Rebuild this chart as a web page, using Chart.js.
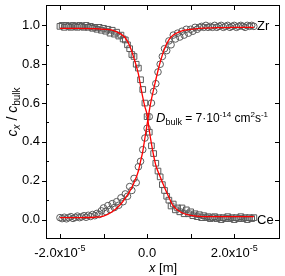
<!DOCTYPE html>
<html>
<head>
<meta charset="utf-8">
<script src="https://cdn.jsdelivr.net/npm/chart.js@4.4.0/dist/chart.umd.min.js"></script>
<style>
  html, body { margin: 0; padding: 0; background: #fff; }
</style>
</head>
<body>
<canvas id="chart" width="285" height="276"></canvas>
<script>
// positions along the line scan, in micrometres
const xMicron = [
	-20, -19.5, -19, -18.5, -18, -17.5, -17, -16.5, -16, -15.5,
	-15, -14.5, -14, -13.5, -13, -12.5, -12, -11.5, -11, -10.5,
	-10, -9.5, -9, -8.5, -8, -7.5, -7, -6.5, -6, -5.5,
	-5, -4.5, -4, -3.5, -3, -2.5, -2, -1.5, -1, -0.5,
	0, 0.5, 1, 1.5, 2, 2.5, 3, 3.5, 4, 4.5,
	5, 5.5, 6, 6.5, 7, 7.5, 8, 8.5, 9, 9.5,
	10, 10.5, 11, 11.5, 12, 12.5, 13, 13.5, 14, 14.5,
	15, 15.5, 16, 16.5, 17, 17.5, 18, 18.5, 19, 19.5,
	20, 20.5, 21, 21.5, 22, 22.5, 23, 23.5, 24, 24.5
]

// Zr (circles)
const zrValues = [
	0.010, 0.005, 0.012, 0.004, 0.010, 0.015, 0.006, 0.011, 0.018, 0.010,
	0.014, 0.020, 0.012, 0.022, 0.016, 0.026, 0.020, 0.032, 0.026, 0.045,
	0.060, 0.042, 0.072, 0.052, 0.082, 0.062, 0.092, 0.074, 0.112, 0.092,
	0.132, 0.120, 0.170, 0.150, 0.212, 0.190, 0.272, 0.300, 0.360, 0.420,
	0.470, 0.530, 0.600, 0.660, 0.700, 0.760, 0.800, 0.840, 0.880, 0.870,
	0.920, 0.900, 0.950, 0.930, 0.960, 0.940, 0.970, 0.950, 0.980, 0.960,
	0.980, 0.970, 0.990, 0.980, 0.990, 0.995, 0.990, 1.000, 0.990, 0.995,
	0.990, 1.000, 0.990, 0.995, 1.000, 0.990, 0.995, 1.000, 0.990, 0.995,
	1.000, 0.990, 0.995, 1.000, 0.995, 0.990, 1.000, 0.995, 1.000, 0.995
]

// Ce (squares)
const ceValues = [
	0.995, 1.000, 0.990, 1.000, 0.995, 0.990, 1.000, 0.995, 0.990, 1.000,
	0.995, 0.990, 1.000, 0.990, 0.995, 0.985, 0.990, 0.980, 0.990, 0.975,
	0.985, 0.970, 0.980, 0.960, 0.975, 0.955, 0.965, 0.945, 0.950, 0.930,
	0.925, 0.900, 0.880, 0.850, 0.840, 0.800, 0.780, 0.720, 0.670, 0.600,
	0.530, 0.450, 0.380, 0.340, 0.290, 0.250, 0.220, 0.180, 0.150, 0.120,
	0.100, 0.070, 0.080, 0.050, 0.060, 0.040, 0.060, 0.030, 0.050, 0.030,
	0.040, 0.020, 0.030, 0.015, 0.025, 0.010, 0.020, 0.010, 0.015, 0.005,
	0.010, 0.015, 0.005, 0.010, 0.000, 0.010, 0.005, 0.015, 0.005, 0.010,
	0.000, 0.010, 0.005, 0.015, 0.005, 0.010, 0.000, 0.010, 0.005, 0.010
]

// fitted diffusion profiles (red lines)
const fitX = [-20, -16, -12, -10, -8, -6, -5, -4, -3, -2, -1.5, -1, -0.5, 0, 0.5, 1, 1.5, 2, 3, 4, 5, 6, 8, 10, 12, 16, 20, 24.5]
const zrFit = [0.010, 0.010, 0.012, 0.018, 0.040, 0.080, 0.110, 0.145, 0.190, 0.250, 0.300, 0.350, 0.420, 0.490, 0.560, 0.620, 0.670, 0.720, 0.810, 0.880, 0.925, 0.950, 0.972, 0.980, 0.985, 0.988, 0.990, 0.990]
const ceFit = [0.985, 0.985, 0.983, 0.980, 0.975, 0.955, 0.935, 0.895, 0.830, 0.750, 0.690, 0.630, 0.580, 0.540, 0.460, 0.390, 0.330, 0.280, 0.220, 0.165, 0.115, 0.070, 0.035, 0.022, 0.017, 0.015, 0.015, 0.015]

// axes
const xTickValues = [-2e-5, -1e-5, 0, 1e-5, 2e-5]
const xLabelValues = [-2e-5, 0, 2e-5]
const xLabelText = ['-2.0x10', '0.0', '2.0x10']
const xLabelExp = ['-5', '', '-5']
const yMajorValues = [0, 0.2, 0.4, 0.6, 0.8, 1.0]
const yLabelText = ['0.0', '0.2', '0.4', '0.6', '0.8', '1.0']
const yMinorValues = [0.1, 0.3, 0.5, 0.7, 0.9]

const FONT = '"Liberation Sans", Arial, sans-serif'
const MARKER = '#5a5a5a'

function toPoints(xs, ys) {
	return xs.map((x, i) => ({ x: x * 1e-6, y: ys[i] }))
}

function drawRuns(ctx, runs, x, y, align) {
	let total = 0
	for (const r of runs) {
		ctx.font = r.font
		total += ctx.measureText(r.text).width
	}
	let cx = x
	if (align === 'center') cx = x - total / 2
	if (align === 'right') cx = x - total
	ctx.textAlign = 'left'
	for (const r of runs) {
		ctx.font = r.font
		ctx.fillText(r.text, cx, y + (r.dy || 0))
		cx += ctx.measureText(r.text).width
	}
}

const framePlugin = {
	id: 'frame',
	afterDraw(chart) {
		const ctx = chart.ctx
		const { left, right, top, bottom } = chart.chartArea
		const xs = chart.scales.x
		const ys = chart.scales.y

		ctx.save()
		ctx.strokeStyle = '#000'
		ctx.lineWidth = 1
		ctx.strokeRect(left + 0.5, top + 0.5, right - left - 1, bottom - top - 1)

		ctx.beginPath()
		// x ticks, inward on top and bottom
		for (const v of xTickValues) {
			const px = Math.round(xs.getPixelForValue(v)) + 0.5
			ctx.moveTo(px, bottom)
			ctx.lineTo(px, bottom - 5)
			ctx.moveTo(px, top)
			ctx.lineTo(px, top + 5)
		}
		// y major ticks: outward left, inward right
		for (const v of yMajorValues) {
			const py = Math.round(ys.getPixelForValue(v)) + 0.5
			ctx.moveTo(left, py)
			ctx.lineTo(left - 4, py)
			ctx.moveTo(right, py)
			ctx.lineTo(right - 5, py)
		}
		// y minor ticks inward on the left
		for (const v of yMinorValues) {
			const py = Math.round(ys.getPixelForValue(v)) + 0.5
			ctx.moveTo(left, py)
			ctx.lineTo(left + 3, py)
		}
		ctx.stroke()

		ctx.fillStyle = '#000'
		ctx.textBaseline = 'middle'
		ctx.textAlign = 'right'
		ctx.font = '13px ' + FONT
		yMajorValues.forEach((v, i) => {
			ctx.fillText(yLabelText[i], left - 6, ys.getPixelForValue(v))
		})

		ctx.textBaseline = 'alphabetic'
		xLabelValues.forEach((v, i) => {
			const runs = [{ text: xLabelText[i], font: '13px ' + FONT }]
			if (xLabelExp[i]) runs.push({ text: xLabelExp[i], font: '9px ' + FONT, dy: -6 })
			drawRuns(ctx, runs, xs.getPixelForValue(v), bottom + 18, 'center')
		})

		// axis titles
		drawRuns(ctx, [
			{ text: 'x', font: 'italic 13px ' + FONT },
			{ text: ' [m]', font: '13px ' + FONT }
		], (left + right) / 2, bottom + 33, 'center')

		ctx.save()
		ctx.translate(17, 112)
		ctx.rotate(-Math.PI / 2)
		drawRuns(ctx, [
			{ text: 'c', font: 'italic 14px ' + FONT },
			{ text: 'x', font: 'italic 10px ' + FONT, dy: 3 },
			{ text: ' / ', font: '14px ' + FONT },
			{ text: 'c', font: 'italic 14px ' + FONT },
			{ text: 'bulk', font: '10px ' + FONT, dy: 3 }
		], 0, 0, 'center')
		ctx.restore()

		// annotations
		drawRuns(ctx, [
			{ text: 'D', font: 'italic 13px ' + FONT },
			{ text: 'bulk', font: '9px ' + FONT, dy: 3 },
			{ text: ' = 7\u00b710', font: '12px ' + FONT },
			{ text: '-14', font: '8px ' + FONT, dy: -5 },
			{ text: ' cm', font: '12px ' + FONT },
			{ text: '2', font: '8px ' + FONT, dy: -5 },
			{ text: 's', font: '12px ' + FONT },
			{ text: '-1', font: '8px ' + FONT, dy: -5 }
		], 156, 122, 'left')

		ctx.textBaseline = 'middle'
		ctx.textAlign = 'left'
		ctx.font = '13px ' + FONT
		ctx.fillText('Zr', 257, ys.getPixelForValue(1.0) + 1)
		ctx.fillText('Ce', 257, ys.getPixelForValue(0.0) + 1)
		ctx.restore()
	}
}

new Chart(document.getElementById('chart'), {
	type: 'scatter',
	data: {
		datasets: [
			{
				label: 'Zr fit',
				data: toPoints(fitX, zrFit),
				showLine: true,
				borderColor: '#ff0000',
				borderWidth: 1.3,
				pointRadius: 0,
				cubicInterpolationMode: 'monotone',
				order: 0
			},
			{
				label: 'Ce fit',
				data: toPoints(fitX, ceFit),
				showLine: true,
				borderColor: '#ff0000',
				borderWidth: 1.3,
				pointRadius: 0,
				cubicInterpolationMode: 'monotone',
				order: 0
			},
			{
				label: 'Zr',
				data: toPoints(xMicron, zrValues),
				pointStyle: 'circle',
				pointRadius: 3.3,
				borderColor: MARKER,
				backgroundColor: 'rgba(0,0,0,0)',
				borderWidth: 1,
				order: 1
			},
			{
				label: 'Ce',
				data: toPoints(xMicron, ceValues),
				pointStyle: 'rect',
				pointRadius: 4,
				borderColor: MARKER,
				backgroundColor: 'rgba(0,0,0,0)',
				borderWidth: 1,
				order: 1
			}
		]
	},
	options: {
		responsive: false,
		animation: false,
		devicePixelRatio: 1,
		layout: { padding: { left: 46, right: 4, top: 1, bottom: 37 } },
		plugins: {
			legend: { display: false },
			tooltip: { enabled: false }
		},
		scales: {
			x: { type: 'linear', min: -2.32e-5, max: 3.05e-5, display: false },
			y: { type: 'linear', min: -0.1, max: 1.105, display: false }
		}
	},
	plugins: [framePlugin]
})
</script>
</body>
</html>
